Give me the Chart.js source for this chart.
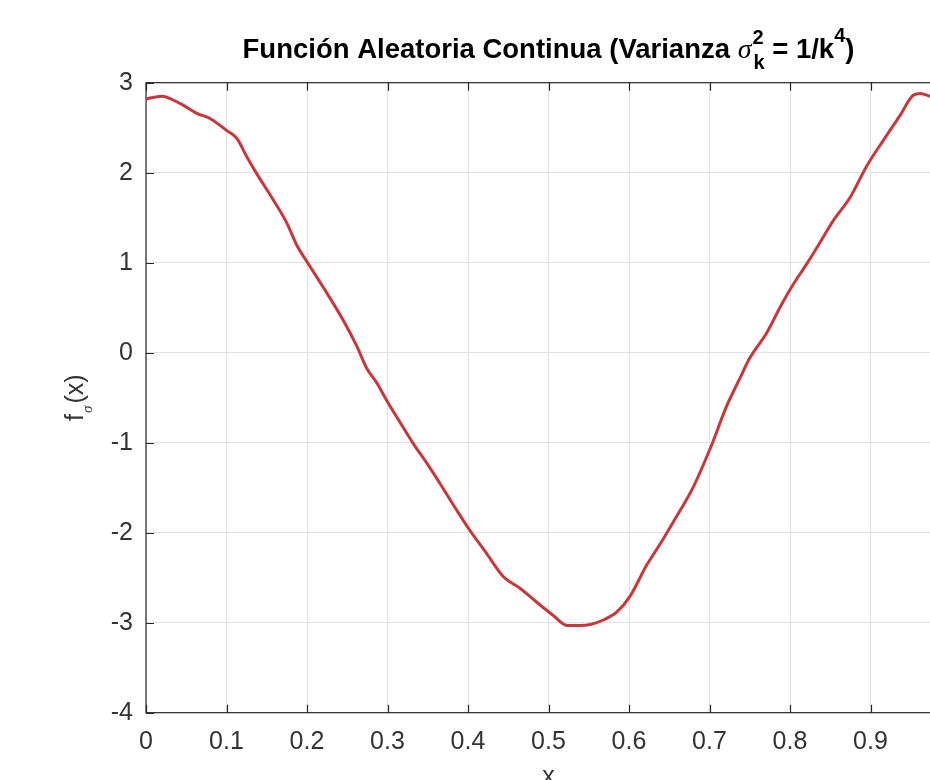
<!DOCTYPE html>
<html>
<head>
<meta charset="utf-8">
<script src="https://cdn.jsdelivr.net/npm/chart.js@4.4.1/dist/chart.umd.min.js"></script>
<style>
  html, body { margin: 0; padding: 0; overflow: hidden; background: #fff; }
  #wrap { width: 1010px; height: 780px; }
</style>
</head>
<body>
<div id="wrap"><canvas id="chart"></canvas></div>
<script>
// values
const xValues = [
  0.000, 0.0195, 0.042, 0.063, 0.080, 0.100, 0.113, 0.125, 0.1375, 0.158,
  0.175, 0.187, 0.200, 0.220, 0.245, 0.262, 0.274, 0.287, 0.299, 0.316,
  0.332, 0.349, 0.365, 0.386, 0.402, 0.423, 0.444, 0.465, 0.485, 0.506,
  0.523, 0.539, 0.552, 0.568, 0.585, 0.601, 0.622, 0.639, 0.655, 0.680,
  0.702, 0.721, 0.738, 0.750, 0.771, 0.788, 0.802, 0.821, 0.837, 0.854,
  0.875, 0.895, 0.916, 0.937, 0.953, 0.962, 0.974
];
const fValues = [
  2.82, 2.85, 2.77, 2.66, 2.60, 2.47, 2.38, 2.18, 1.99, 1.70,
  1.44, 1.20, 1.01, 0.73, 0.36, 0.07, -0.17, -0.34, -0.53, -0.78,
  -1.01, -1.23, -1.45, -1.75, -1.97, -2.23, -2.49, -2.62, -2.77, -2.92,
  -3.03, -3.03, -3.02, -2.97, -2.88, -2.71, -2.36, -2.12, -1.88, -1.49,
  -1.04, -0.60, -0.28, -0.06, 0.22, 0.51, 0.73, 0.99, 1.22, 1.47,
  1.73, 2.07, 2.36, 2.64, 2.86, 2.88, 2.85
];
const xTicks = [0, 0.1, 0.2, 0.3, 0.4, 0.5, 0.6, 0.7, 0.8, 0.9, 1];
const yTicks = [-4, -3, -2, -1, 0, 1, 2, 3];

const FONT = "'Liberation Sans', Arial, Helvetica, sans-serif";
const AXIS_COLOR = "#262626";
const TEXT_COLOR = "#333333";

Chart.defaults.font.family = FONT;
Chart.defaults.color = TEXT_COLOR;

// box, inward ticks, title and axis labels drawn like the matlab figure
const matlabAxes = {
  id: "matlabAxes",
  beforeDatasetsDraw(chart) {
    const { ctx, chartArea: a, scales } = chart;
    ctx.save();
    ctx.strokeStyle = AXIS_COLOR;
    ctx.lineWidth = 1.2;
    ctx.strokeRect(a.left, a.top, a.right - a.left, a.bottom - a.top);
    const tl = 8;
    ctx.beginPath();
    xTicks.forEach((v) => {
      const px = Math.round(scales.x.getPixelForValue(v)) + 0.5;
      ctx.moveTo(px, a.bottom); ctx.lineTo(px, a.bottom - tl);
      ctx.moveTo(px, a.top); ctx.lineTo(px, a.top + tl);
    });
    yTicks.forEach((v) => {
      const py = Math.round(scales.y.getPixelForValue(v)) + 0.5;
      ctx.moveTo(a.left, py); ctx.lineTo(a.left + tl, py);
      ctx.moveTo(a.right, py); ctx.lineTo(a.right - tl, py);
    });
    ctx.stroke();
    ctx.restore();
  },
  afterDraw(chart) {
    const { ctx, chartArea: a } = chart;
    ctx.save();
    ctx.fillStyle = "#000";
    ctx.textBaseline = "alphabetic";

    // title: Función Aleatoria Continua (Varianza σ_k^2 = 1/k^4)
    const big = "bold 27.5px " + FONT;
    const small = "bold 20px " + FONT;
    const sig = "italic 28px 'Liberation Serif', 'DejaVu Serif', serif";
    const parts = [
      { t: "Función Aleatoria Continua (Varianza ", f: big, dy: 0 },
      { t: "σ", f: sig, dy: 0 },
      { t: "2", f: small, dy: -14, stack: "k", sdy: 11 },
      { t: " = 1/k", f: big, dy: 0 },
      { t: "4", f: small, dy: -16 },
      { t: ")", f: big, dy: 0 },
    ];
    let total = 0;
    parts.forEach((p) => {
      ctx.font = p.f;
      p.w = ctx.measureText(p.t).width;
      if (p.stack) p.w = Math.max(p.w, ctx.measureText(p.stack).width) + 2;
      total += p.w;
    });
    let x = (a.left + a.right) / 2 - total / 2;
    const base = 58;
    parts.forEach((p) => {
      ctx.font = p.f;
      ctx.fillText(p.t, x + (p.stack ? 1 : 0), base + p.dy);
      if (p.stack) ctx.fillText(p.stack, x + 2, base + p.sdy);
      x += p.w;
    });

    // x label, mostly below the bottom edge
    ctx.fillStyle = TEXT_COLOR;
    ctx.font = "25px " + FONT;
    ctx.textAlign = "center";
    ctx.fillText("x", (a.left + a.right) / 2, 784);
    ctx.textAlign = "left";

    // y label: f_σ(x)
    ctx.translate(83, (a.top + a.bottom) / 2);
    ctx.rotate(-Math.PI / 2);
    const lab = "25px " + FONT;
    const sub = "italic 15px 'Liberation Serif', 'DejaVu Serif', serif";
    ctx.font = lab;
    const wf = ctx.measureText("f").width;
    const wx = ctx.measureText("(x)").width;
    ctx.font = sub;
    const ws = ctx.measureText("σ").width + 3;
    let lx = -(wf + ws + wx) / 2;
    ctx.font = lab;
    ctx.fillText("f", lx, 0);
    lx += wf;
    ctx.font = sub;
    ctx.fillText("σ", lx + 1, 9);
    lx += ws;
    ctx.font = lab;
    ctx.fillText("(x)", lx, 0);
    ctx.restore();
  },
};

new Chart(document.getElementById("chart"), {
  type: "line",
  data: {
    datasets: [
      {
        data: xValues.map((x, i) => ({ x: x, y: fValues[i] })),
        borderColor: "#c8383a",
        borderWidth: 3,
        pointRadius: 0,
        fill: false,
        cubicInterpolationMode: "monotone",
        clip: false,
      },
    ],
  },
  options: {
    responsive: true,
    maintainAspectRatio: false,
    animation: false,
    events: [],
    layout: { padding: { top: 82.7, right: 59, left: 0, bottom: 0 } },
    plugins: { legend: { display: false }, tooltip: { enabled: false }, title: { display: false } },
    scales: {
      x: {
        type: "linear",
        min: 0,
        max: 1,
        afterBuildTicks: (s) => { s.ticks = xTicks.map((v) => ({ value: v })); },
        afterFit: (s) => { s.height = 780 - 712.7; },
        grid: { color: "#e2e2e2", lineWidth: 1, drawTicks: false },
        border: { display: false },
        ticks: {
          font: { size: 25 },
          color: TEXT_COLOR,
          padding: 14,
          maxRotation: 0,
          autoSkip: false,
          callback: (v) => (v === 0 ? "0" : String(Math.round(v * 10) / 10)),
        },
      },
      y: {
        min: -4,
        max: 3,
        afterBuildTicks: (s) => { s.ticks = yTicks.map((v) => ({ value: v })); },
        afterFit: (s) => { s.width = 146; },
        grid: { color: "#e2e2e2", lineWidth: 1, drawTicks: false },
        border: { display: false },
        ticks: {
          font: { size: 25 },
          color: TEXT_COLOR,
          padding: 13,
          callback: (v) => String(v),
        },
      },
    },
  },
  plugins: [matlabAxes],
});
</script>
</body>
</html>
